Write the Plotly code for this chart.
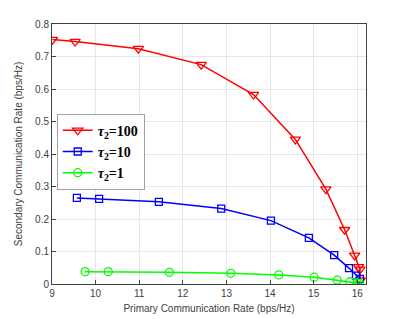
import plotly.graph_objects as go

red_x = [9.01, 9.53, 10.98, 12.42, 13.62, 14.58, 15.28, 15.71, 15.94, 16.03, 16.06, 16.07]
red_y = [0.752, 0.746, 0.724, 0.675, 0.583, 0.445, 0.292, 0.167, 0.088, 0.053, 0.045, 0.012]
blue_x = [9.57, 10.08, 11.45, 12.88, 14.02, 14.89, 15.47, 15.81, 15.97, 16.06]
blue_y = [0.265, 0.262, 0.253, 0.232, 0.195, 0.142, 0.089, 0.049, 0.026, 0.016]
green_x = [9.76, 10.29, 11.69, 13.10, 14.20, 15.01, 15.54, 15.83, 15.99, 16.05]
green_y = [0.038, 0.038, 0.036, 0.033, 0.028, 0.021, 0.012, 0.007, 0.003, 0.002]
names = ["<b><i>τ</i><sub>2</sub>=100</b>", "<b><i>τ</i><sub>2</sub>=10</b>", "<b><i>τ</i><sub>2</sub>=1</b>"]

fig = go.Figure()
fig.add_trace(go.Scatter(x=red_x, y=red_y, mode="lines+markers", name=names[0],
                         line=dict(color="#ff0000", width=1.5),
                         marker=dict(symbol="triangle-down-open", size=9, color="#ff0000", line=dict(width=1.3))))
fig.add_trace(go.Scatter(x=blue_x, y=blue_y, mode="lines+markers", name=names[1],
                         line=dict(color="#0000ff", width=1.5),
                         marker=dict(symbol="square-open", size=7, color="#0000ff", line=dict(width=1.3))))
fig.add_trace(go.Scatter(x=green_x, y=green_y, mode="lines+markers", name=names[2],
                         line=dict(color="#00ff00", width=1.5),
                         marker=dict(symbol="circle-open", size=8, color="#00ff00", line=dict(width=1.3))))

axis_common = dict(showline=True, linecolor="#404040", linewidth=1, mirror=True,
                   ticks="inside", ticklen=4, tickcolor="#404040",
                   showgrid=True, gridcolor="#e6e6e6", gridwidth=1, zeroline=False,
                   automargin=False,
                   tickfont=dict(family="Liberation Sans, Arial", size=10, color="#404040"),
                   title_font=dict(family="Liberation Sans, Arial", size=10, color="#404040"))

fig.update_xaxes(range=[9, 16.2], tickvals=[9, 10, 11, 12, 13, 14, 15, 16],
                 title_text="Primary Communication Rate (bps/Hz)", title_standoff=6, **axis_common)
fig.update_yaxes(range=[0, 0.8], tickvals=[0, 0.1, 0.2, 0.3, 0.4, 0.5, 0.6, 0.7, 0.8],
                 ticktext=["0", "0.1", "0.2", "0.3", "0.4", "0.5", "0.6", "0.7", "0.8"],
                 title_text="Secondary Communication Rate (bps/Hz)", title_standoff=10, **axis_common)

fig.update_layout(width=404, height=319, margin=dict(l=52, r=38, t=24, b=35, autoexpand=False),
                  plot_bgcolor="white", paper_bgcolor="white", showlegend=True,
                  legend=dict(x=0.015, y=0.655, xanchor="left", yanchor="top",
                              bgcolor="white", bordercolor="#a0a0a0", borderwidth=1,
                              font=dict(family="Liberation Serif, Times New Roman", size=14, color="black"),
                              itemwidth=30, tracegroupgap=0))

fig.write_html("out.html", config={"displayModeBar": False},
               post_script="document.body.style.margin='0';")
